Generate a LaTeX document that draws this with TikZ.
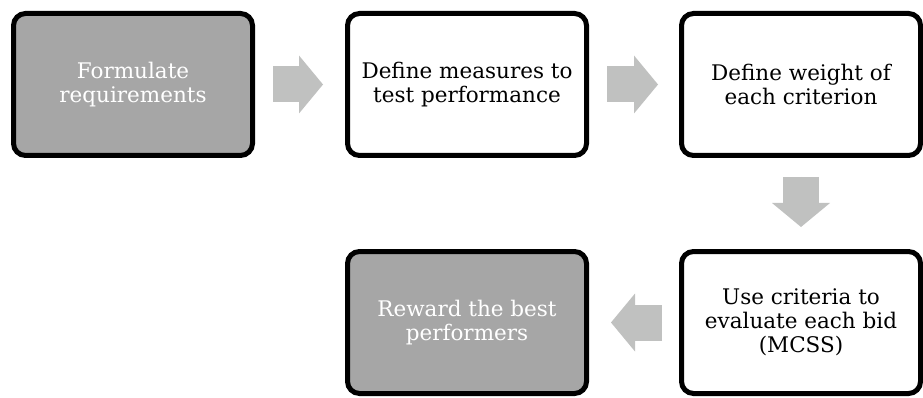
\documentclass[tikz,border=0pt]{standalone}
\usepackage{fontspec}
\setmainfont{DejaVu Serif}
\usepackage{tikz}
\usetikzlibrary{positioning,arrows.meta}

\definecolor{boxgray}{HTML}{A6A6A6}
\definecolor{arrowgray}{HTML}{C0C1C0}

\begin{document}
\begin{tikzpicture}[node distance=90pt, x=1pt, y=1pt]
    \tikzstyle{stepbox}=[draw=black, line width=5pt, rounded corners=12pt, fill=white, text=black,
        minimum width=239pt, minimum height=142pt, align=center,
        font=\fontsize{21.5}{24}\selectfont]
    \tikzstyle{grayrbox}=[stepbox, fill=boxgray, text=white]
    \tikzstyle{flow}=[draw=arrowgray, fill=arrowgray, line width=36pt,
        -{Triangle[width=58pt,length=24pt,line width=0pt]}]

    \useasboundingbox (0,0) rectangle (923,-398);

    % top row
    \node[grayrbox] (req) at (133,-84.5) {Formulate\\requirements};
    \node[stepbox] (meas)[right=of req] {Define measures to\\test performance};
    \node[stepbox] (weight)[right=of meas] {Define weight of\\each criterion};

    % bottom row
    \node[stepbox] (bid)[below=91pt of weight] {Use criteria to\\evaluate each bid\\(MCSS)};
    \node[grayrbox] (reward)[left=of bid] {Reward the best\\performers};

    % block arrows
    \path (req) edge[flow, shorten <=18pt, shorten >=22pt] (meas);
    \path (meas) edge[flow, shorten <=18pt, shorten >=21pt] (weight);
    \path (weight) edge[flow, shorten <=19pt, shorten >=22pt] (bid);
    \path (bid) edge[flow, shorten <=17pt, shorten >=22pt] (reward);
\end{tikzpicture}
\end{document}
